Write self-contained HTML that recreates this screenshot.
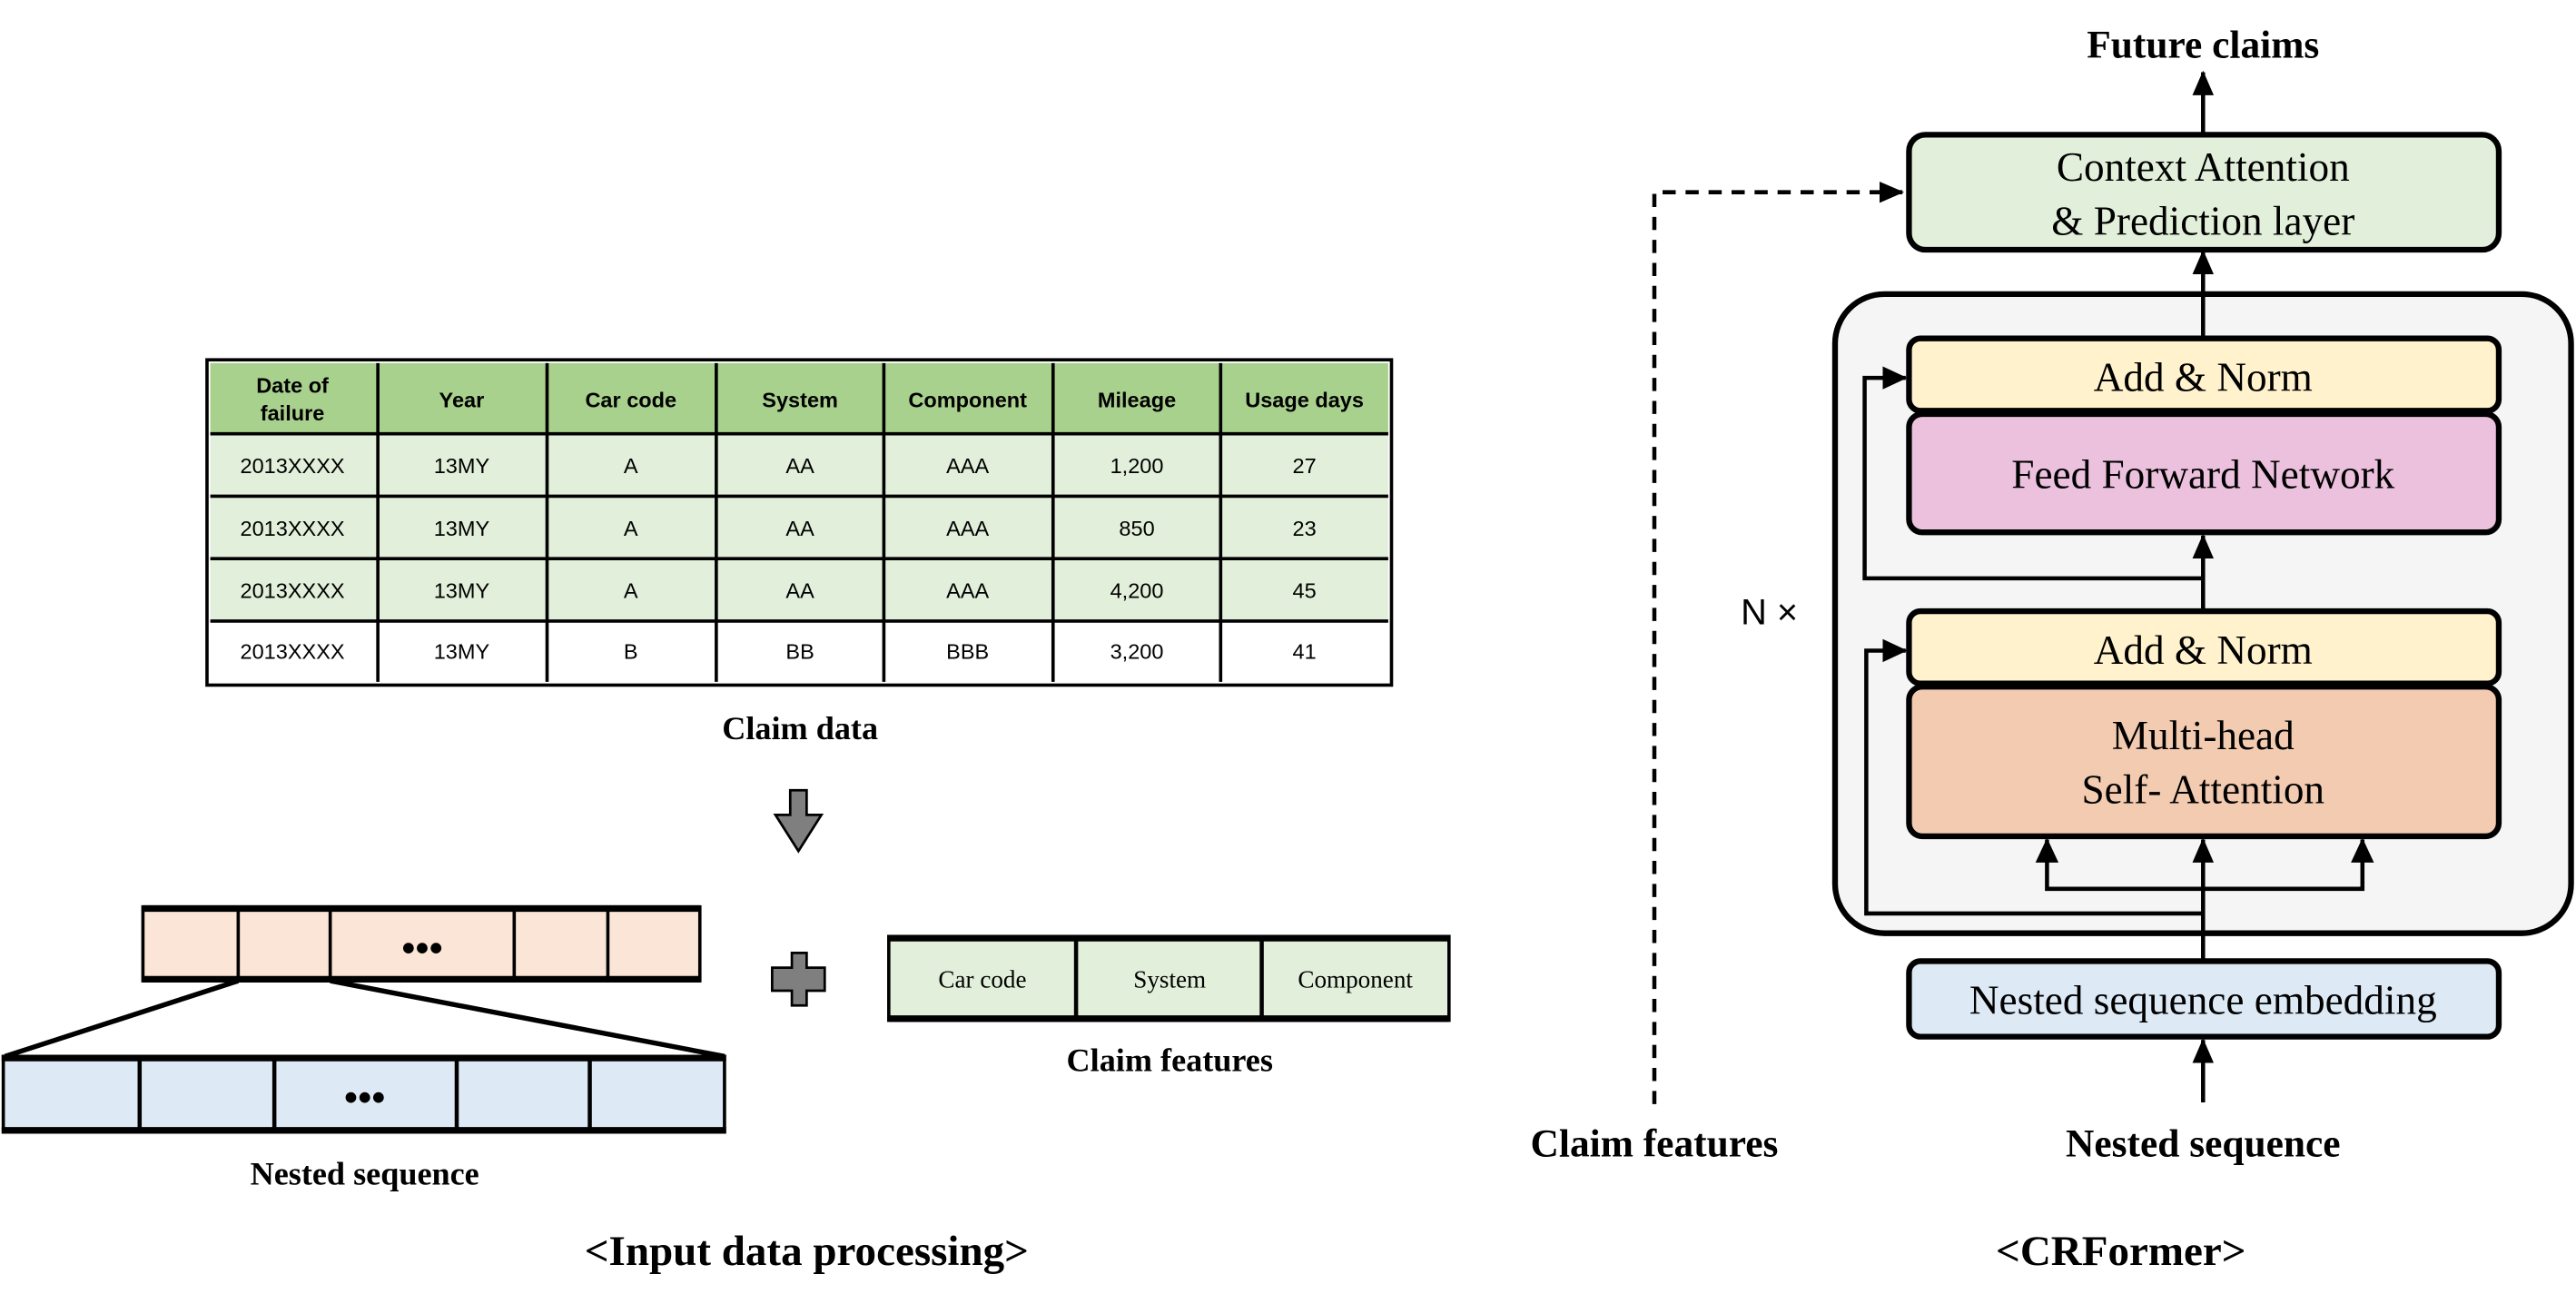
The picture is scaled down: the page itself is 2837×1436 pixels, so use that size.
<!DOCTYPE html>
<html><head><meta charset="utf-8"><style>
html,body{margin:0;padding:0;background:#fff;}
svg{display:block;}
.s{font-family:"Liberation Serif",serif;}
.a{font-family:"Liberation Sans",sans-serif;}
</style></head><body>
<svg width="2837" height="1436" viewBox="0 0 1568 793.7" preserveAspectRatio="none" xmlns="http://www.w3.org/2000/svg">
<defs>
<marker id="ah" markerWidth="15" markerHeight="14" refX="14" refY="7" orient="auto" markerUnits="userSpaceOnUse"><path d="M0,0.5 L15,7 L0,13.5 z" fill="#000"/></marker>
<marker id="ah2" markerWidth="15" markerHeight="16" refX="14" refY="8" orient="auto" markerUnits="userSpaceOnUse"><path d="M0,1 L15,8 L0,15 z" fill="#000"/></marker>
</defs>
<!-- Table -->
<rect x="126" y="219" width="721" height="198" fill="#fff" stroke="#000" stroke-width="2"/>
<rect x="128" y="221" width="717" height="43" fill="#a9d18e"/>
<rect x="128" y="264" width="717" height="114" fill="#e2efda"/>
<g stroke="#000" stroke-width="2">
<line x1="128" y1="264" x2="845" y2="264"/><line x1="128" y1="302" x2="845" y2="302"/><line x1="128" y1="340" x2="845" y2="340"/><line x1="128" y1="378" x2="845" y2="378"/>
<line x1="230" y1="221" x2="230" y2="415"/><line x1="333" y1="221" x2="333" y2="415"/><line x1="436" y1="221" x2="436" y2="415"/><line x1="538" y1="221" x2="538" y2="415"/><line x1="641" y1="221" x2="641" y2="415"/><line x1="743" y1="221" x2="743" y2="415"/>
</g>
<g class="a" font-size="13" text-anchor="middle" font-weight="bold">
<text x="178" y="239">Date of</text><text x="178" y="256">failure</text>
<text x="281" y="248">Year</text><text x="384" y="248">Car code</text><text x="487" y="248">System</text><text x="589" y="248">Component</text><text x="692" y="248">Mileage</text><text x="794" y="248">Usage days</text>
</g>
<g class="a" font-size="13" text-anchor="middle">
<text x="178" y="288">2013XXXX</text><text x="281" y="288">13MY</text><text x="384" y="288">A</text><text x="487" y="288">AA</text><text x="589" y="288">AAA</text><text x="692" y="288">1,200</text><text x="794" y="288">27</text>
<text x="178" y="326">2013XXXX</text><text x="281" y="326">13MY</text><text x="384" y="326">A</text><text x="487" y="326">AA</text><text x="589" y="326">AAA</text><text x="692" y="326">850</text><text x="794" y="326">23</text>
<text x="178" y="364">2013XXXX</text><text x="281" y="364">13MY</text><text x="384" y="364">A</text><text x="487" y="364">AA</text><text x="589" y="364">AAA</text><text x="692" y="364">4,200</text><text x="794" y="364">45</text>
<text x="178" y="401">2013XXXX</text><text x="281" y="401">13MY</text><text x="384" y="401">B</text><text x="487" y="401">BB</text><text x="589" y="401">BBB</text><text x="692" y="401">3,200</text><text x="794" y="401">41</text>
</g>
<text x="487" y="450" class="s" font-size="20" font-weight="bold" text-anchor="middle">Claim data</text>
<path d="M481,481 L491,481 L491,496 L500,496 L486,518 L472,496 L481,496 z" fill="#7f7f7f" stroke="#000" stroke-width="1.5"/>
<rect x="87" y="552" width="339" height="45" fill="#fbe5d6" stroke="#000" stroke-width="2"/>
<line x1="87" y1="553" x2="426" y2="553" stroke="#000" stroke-width="4"/><line x1="87" y1="596" x2="426" y2="596" stroke="#000" stroke-width="4"/>
<g stroke="#000" stroke-width="2"><line x1="145" y1="552" x2="145" y2="597"/><line x1="201" y1="552" x2="201" y2="597"/><line x1="313" y1="552" x2="313" y2="597"/><line x1="370" y1="552" x2="370" y2="597"/></g>
<text x="257" y="585" class="s" font-size="24" font-weight="bold" text-anchor="middle">•••</text>
<g stroke="#000" stroke-width="3"><line x1="145" y1="597" x2="3" y2="643"/><line x1="201" y1="597" x2="441" y2="643"/></g>
<rect x="2" y="643" width="439" height="46" fill="#dde9f5" stroke="#000" stroke-width="2"/>
<line x1="1" y1="644" x2="442" y2="644" stroke="#000" stroke-width="4"/><line x1="1" y1="688" x2="442" y2="688" stroke="#000" stroke-width="4"/>
<g stroke="#000" stroke-width="2.5"><line x1="85" y1="643" x2="85" y2="689"/><line x1="167" y1="643" x2="167" y2="689"/><line x1="278" y1="643" x2="278" y2="689"/><line x1="359" y1="643" x2="359" y2="689"/></g>
<text x="222" y="676" class="s" font-size="24" font-weight="bold" text-anchor="middle">•••</text>
<text x="222" y="721" class="s" font-size="20" font-weight="bold" text-anchor="middle">Nested sequence</text>
<path d="M482,580 L491,580 L491,589 L502,589 L502,603 L491,603 L491,612 L482,612 L482,603 L470,603 L470,589 L482,589 z" fill="#7f7f7f" stroke="#000" stroke-width="1.5"/>
<rect x="541" y="570" width="341" height="51" fill="#e2efda" stroke="#000" stroke-width="2"/>
<line x1="541" y1="571" x2="882" y2="571" stroke="#000" stroke-width="4"/><line x1="541" y1="620" x2="882" y2="620" stroke="#000" stroke-width="4"/>
<g stroke="#000" stroke-width="2.5"><line x1="655" y1="570" x2="655" y2="621"/><line x1="768" y1="570" x2="768" y2="621"/></g>
<g class="s" font-size="15" text-anchor="middle"><text x="598" y="601">Car code</text><text x="712" y="601">System</text><text x="825" y="601">Component</text></g>
<text x="712" y="652" class="s" font-size="20" font-weight="bold" text-anchor="middle">Claim features</text>
<text x="491" y="770" class="s" font-size="26" font-weight="bold" text-anchor="middle">&lt;Input data processing&gt;</text>

<text x="1341" y="35" class="s" font-size="24" font-weight="bold" text-anchor="middle">Future claims</text>
<line x1="1341" y1="82" x2="1341" y2="44" stroke="#000" stroke-width="2.5" marker-end="url(#ah)"/>
<rect x="1162" y="82" width="359" height="70" rx="10" fill="#e2efda" stroke="#000" stroke-width="3.5"/>
<g class="s" font-size="25" text-anchor="middle"><text x="1341" y="110">Context Attention</text><text x="1341" y="143">&amp; Prediction layer</text></g>
<line x1="1341" y1="206" x2="1341" y2="153" stroke="#000" stroke-width="2.5" marker-end="url(#ah)"/>
<rect x="1117" y="179" width="448" height="389" rx="30" fill="#f5f5f5" stroke="#000" stroke-width="3.5"/>
<line x1="1341" y1="206" x2="1341" y2="179" stroke="#000" stroke-width="2.5"/>
<rect x="1162" y="206" width="359" height="44" rx="7" fill="#fff2cc" stroke="#000" stroke-width="3.5"/>
<text x="1341" y="238" class="s" font-size="25" text-anchor="middle">Add &amp; Norm</text>
<rect x="1162" y="252" width="359" height="72" rx="8" fill="#ecc1de" stroke="#000" stroke-width="3.5"/>
<text x="1341" y="297" class="s" font-size="25" text-anchor="middle">Feed Forward Network</text>
<rect x="1162" y="372" width="359" height="44" rx="7" fill="#fff2cc" stroke="#000" stroke-width="3.5"/>
<text x="1341" y="404" class="s" font-size="25" text-anchor="middle">Add &amp; Norm</text>
<rect x="1162" y="418" width="359" height="91" rx="8" fill="#f2cbb0" stroke="#000" stroke-width="3.5"/>
<g class="s" font-size="25" text-anchor="middle"><text x="1341" y="456">Multi-head</text><text x="1341" y="489">Self- Attention</text></g>
<g stroke="#000" stroke-width="2.5" fill="none">
<line x1="1341" y1="372" x2="1341" y2="326" marker-end="url(#ah)"/>
<polyline points="1341,352 1135,352 1135,230 1160,230" marker-end="url(#ah2)"/>
<polyline points="1341,556 1136,556 1136,396 1160,396" marker-end="url(#ah2)"/>
<line x1="1341" y1="585" x2="1341" y2="511" marker-end="url(#ah)"/>
<polyline points="1246,511 1246,541 1438,541 1438,511"/>
</g>
<path d="M1246,510 L1239,525 L1253,525 z M1438,510 L1431,525 L1445,525 z" fill="#000"/>
<rect x="1162" y="585" width="359" height="46" rx="7" fill="#dde9f5" stroke="#000" stroke-width="3.5"/>
<text x="1341" y="617" class="s" font-size="25" text-anchor="middle">Nested sequence embedding</text>
<line x1="1341" y1="671" x2="1341" y2="633" stroke="#000" stroke-width="2.5" marker-end="url(#ah)"/>
<text x="1341" y="704" class="s" font-size="24" font-weight="bold" text-anchor="middle">Nested sequence</text>
<text x="1007" y="704" class="s" font-size="24" font-weight="bold" text-anchor="middle">Claim features</text>
<polyline points="1007,672 1007,117 1158,117" fill="none" stroke="#000" stroke-width="2.5" stroke-dasharray="8,6" marker-end="url(#ah)"/>
<text x="1077" y="380" class="a" font-size="22" text-anchor="middle">N ×</text>
<text x="1291" y="770" class="s" font-size="26" font-weight="bold" text-anchor="middle">&lt;CRFormer&gt;</text>
</svg>
</body></html>
